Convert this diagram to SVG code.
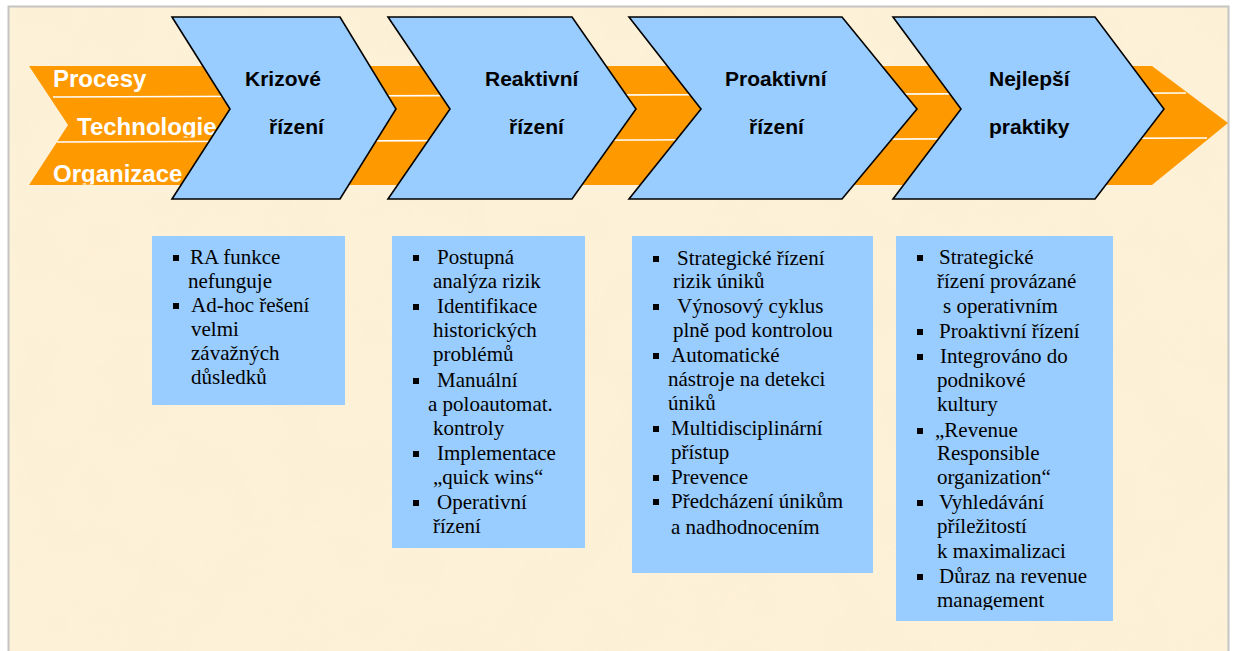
<svg xmlns="http://www.w3.org/2000/svg" width="1233" height="651" viewBox="0 0 1233 651">
  <defs>
    <style>
      .band { fill: #FF9900; }
      .sep { stroke: #FFFFFF; stroke-width: 1.6; fill: none; }
      .lbl { font-family: "Liberation Sans", Arial, sans-serif; font-weight: bold; font-size: 24px; fill: #FFFFFF; }
      .chev { fill: #99CCFF; stroke: #000000; stroke-width: 1.6; stroke-linejoin: miter; }
      .ctitle { font-family: "Liberation Sans", Arial, sans-serif; font-weight: bold; font-size: 21px; fill: #000000; }
      .box { fill: #99CCFF; }
      .item { font-family: "Liberation Serif", "Times New Roman", serif; font-size: 21px; fill: #000000; }
      .dot { fill: #000000; }
    </style>
    <filter id="paper" x="0" y="0" width="100%" height="100%">
      <feTurbulence type="fractalNoise" baseFrequency="0.018" numOctaves="3" seed="7"/>
      <feColorMatrix type="matrix" values="0 0 0 0 0.93  0 0 0 0 0.84  0 0 0 0 0.64  1.6 0 0 0 -0.75"/>
    </filter>
    <clipPath id="clipTech"><rect x="0" y="100" width="400" height="37.5"/></clipPath>
    <clipPath id="clipOrg"><rect x="0" y="145" width="400" height="39.5"/></clipPath>
    <clipPath id="clipBox4"><rect x="896" y="236" width="217" height="374"/></clipPath>
  </defs>

  <!-- page and textured paper background -->
  <rect x="0" y="0" width="1233" height="651" fill="#FFFFFF"/>
  <rect x="8" y="6" width="1220" height="645" fill="#FDF1D8"/>
  <rect x="8" y="6" width="1220" height="645" filter="url(#paper)" opacity="0.55"/>
  <path d="M8.5 651 V6.5 H1228.5 V651" fill="none" stroke="#C4C4C4" stroke-width="2"/>

  <!-- orange band: Procesy / Technologie / Organizace -->
  <g id="band">
    <polygon class="band" points="29,66 1152,66 1228,123 1152,185 29,185 68,125"/>
    <line class="sep" x1="53" y1="97" x2="1186" y2="93"/>
    <line class="sep" x1="57" y1="142" x2="1207" y2="138"/>
    <text class="lbl" x="53" y="87">Procesy</text>
    <text class="lbl" x="77" y="135" clip-path="url(#clipTech)">Technologie</text>
    <text class="lbl" x="53" y="182" clip-path="url(#clipOrg)">Organizace</text>
  </g>

  <!-- stage chevrons -->
  <g id="stage1">
    <polygon class="chev" points="172,17 340,17 396,109 340,199 172,199 230,109"/>
    <text class="ctitle" x="245" y="86">Krizové</text>
    <text class="ctitle" x="269" y="134">řízení</text>
  </g>
  <g id="stage2">
    <polygon class="chev" points="388,17 572,17 636,109 572,199 388,199 450,109"/>
    <text class="ctitle" x="485" y="86">Reaktivní</text>
    <text class="ctitle" x="509" y="134">řízení</text>
  </g>
  <g id="stage3">
    <polygon class="chev" points="629,17 842,17 917,109 842,199 629,199 701,109"/>
    <text class="ctitle" x="725" y="86">Proaktivní</text>
    <text class="ctitle" x="749" y="134">řízení</text>
  </g>
  <g id="stage4">
    <polygon class="chev" points="893,17 1095,17 1164,109 1095,199 893,199 961,109"/>
    <text class="ctitle" x="989" y="86">Nejlepší</text>
    <text class="ctitle" x="989" y="134">praktiky</text>
  </g>

  <!-- description boxes -->
  <g id="desc1">
    <rect class="box" x="152" y="236" width="193" height="169"/>
    <rect class="dot" x="173" y="255" width="6" height="6"/>
    <text class="item" x="190" y="264">RA funkce</text>
    <text class="item" x="188" y="288">nefunguje</text>
    <rect class="dot" x="173" y="303" width="6" height="6"/>
    <text class="item" x="191" y="312">Ad-hoc řešení</text>
    <text class="item" x="191" y="336">velmi</text>
    <text class="item" x="191" y="360">závažných</text>
    <text class="item" x="191" y="384">důsledků</text>
  </g>

  <g id="desc2">
    <rect class="box" x="392" y="236" width="193" height="312"/>
    <rect class="dot" x="413" y="255" width="6" height="6"/>
    <text class="item" x="437" y="264">Postupná</text>
    <text class="item" x="433" y="288">analýza rizik</text>
    <rect class="dot" x="413" y="304" width="6" height="6"/>
    <text class="item" x="437" y="313">Identifikace</text>
    <text class="item" x="433" y="337">historických</text>
    <text class="item" x="433" y="361">problémů</text>
    <rect class="dot" x="413" y="378" width="6" height="6"/>
    <text class="item" x="437" y="387">Manuální</text>
    <text class="item" x="428" y="411">a poloautomat.</text>
    <text class="item" x="433" y="435">kontroly</text>
    <rect class="dot" x="413" y="451" width="6" height="6"/>
    <text class="item" x="437" y="460">Implementace</text>
    <text class="item" x="433" y="484">„quick wins“</text>
    <rect class="dot" x="413" y="500" width="6" height="6"/>
    <text class="item" x="437" y="509">Operativní</text>
    <text class="item" x="433" y="533">řízení</text>
  </g>

  <g id="desc3">
    <rect class="box" x="632" y="236" width="241" height="337"/>
    <rect class="dot" x="653" y="256" width="6" height="6"/>
    <text class="item" x="677" y="265">Strategické řízení</text>
    <text class="item" x="673" y="288">rizik úniků</text>
    <rect class="dot" x="653" y="304" width="6" height="6"/>
    <text class="item" x="677" y="313">Výnosový cyklus</text>
    <text class="item" x="673" y="337">plně pod kontrolou</text>
    <rect class="dot" x="653" y="353" width="6" height="6"/>
    <text class="item" x="671" y="362">Automatické</text>
    <text class="item" x="668" y="386">nástroje na detekci</text>
    <text class="item" x="668" y="410">úniků</text>
    <rect class="dot" x="653" y="426" width="6" height="6"/>
    <text class="item" x="671" y="435">Multidisciplinární</text>
    <text class="item" x="671" y="459">přístup</text>
    <rect class="dot" x="653" y="475" width="6" height="6"/>
    <text class="item" x="671" y="484">Prevence</text>
    <rect class="dot" x="653" y="499" width="6" height="6"/>
    <text class="item" x="671" y="508">Předcházení únikům</text>
    <text class="item" x="671" y="534">a nadhodnocením</text>
  </g>

  <g id="desc4">
    <rect class="box" x="896" y="236" width="217" height="385"/>
    <g clip-path="url(#clipBox4)">
      <rect class="dot" x="917" y="255" width="6" height="6"/>
      <text class="item" x="939" y="264">Strategické</text>
      <text class="item" x="937" y="288">řízení provázané</text>
      <text class="item" x="943" y="313">s operativním</text>
      <rect class="dot" x="917" y="329" width="6" height="6"/>
      <text class="item" x="939" y="338">Proaktivní řízení</text>
      <rect class="dot" x="917" y="354" width="6" height="6"/>
      <text class="item" x="940" y="363">Integrováno do</text>
      <text class="item" x="937" y="387">podnikové</text>
      <text class="item" x="937" y="411">kultury</text>
      <rect class="dot" x="917" y="428" width="6" height="6"/>
      <text class="item" x="935" y="437">„Revenue</text>
      <text class="item" x="937" y="460">Responsible</text>
      <text class="item" x="937" y="484">organization“</text>
      <rect class="dot" x="917" y="500" width="6" height="6"/>
      <text class="item" x="939" y="509">Vyhledávání</text>
      <text class="item" x="937" y="533">příležitostí</text>
      <text class="item" x="937" y="558">k maximalizaci</text>
      <rect class="dot" x="917" y="574" width="6" height="6"/>
      <text class="item" x="939" y="583">Důraz na revenue</text>
      <text class="item" x="937" y="607">management</text>
    </g>
  </g>
</svg>
